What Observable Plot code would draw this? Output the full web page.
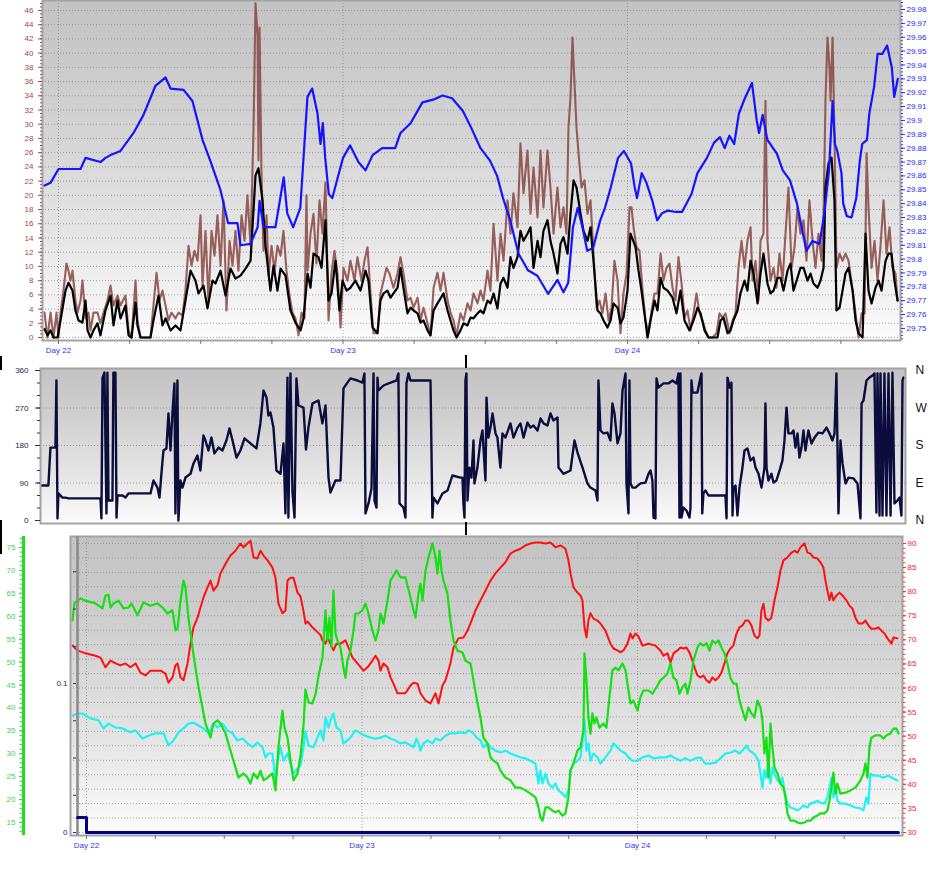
<!DOCTYPE html>
<html><head><meta charset="utf-8">
<script src="https://cdn.jsdelivr.net/npm/d3@7"></script>
<script src="https://cdn.jsdelivr.net/npm/@observablehq/plot@0.6"></script>
<style>
html,body{margin:0;padding:0;background:#fff;}
#wrap{position:relative;width:949px;height:881px;overflow:hidden;}
#wrap svg{position:absolute;left:0;}
.sp{position:absolute;background:#000;width:1.5px;}
</style></head><body><div id="wrap"></div>
<script>
// ---------- DATA (time in hours from Day 22 00:00) ----------
const dayTicks = [0, 24, 48];
const hourTicks = [0, 6, 12, 18, 24, 30, 36, 42, 48, 54, 60, 66];
const windTicks = [0,2,4,6,8,10,12,14,16,18,20,22,24,26,28,30,32,34,36,38,40,42,44,46];
const pressureTicks = [29.75,29.76,29.77,29.78,29.79,29.8,29.81,29.82,29.83,29.84,29.85,29.86,29.87,29.88,29.89,29.9,29.91,29.92,29.93,29.94,29.95,29.96,29.97,29.98];
const dirTicks = [0, 90, 180, 270, 360];
const dirNames = ["N", "E", "S", "W", "N"];
const humTicks = [15,20,25,30,35,40,45,50,55,60,65,70,75];
const tempTicks = [30,35,40,45,50,55,60,65,70,75,80,85,90];
const rainTicks = [0, 0.025, 0.05, 0.075, 0.1, 0.125, 0.15, 0.175];
const rainLabels = [0, 0.1];

const windGust = [[-1.18,3.5],[-0.93,0],[-0.67,3.5],[-0.42,0],[-0.17,3.5],[0,0],[0.17,3.5],[0.42,6.6],[0.67,10.4],[0.84,9.4],[1.01,8],[1.18,9.4],[1.43,5.2],[1.6,3.5],[1.86,5.2],[2.02,8],[2.28,2.7],[2.53,3.5],[2.7,1],[2.95,3.5],[3.29,3.5],[3.54,2],[3.8,3.5],[4.13,5.2],[4.39,7.3],[4.64,4.5],[4.98,5.9],[5.23,4.5],[5.65,5.9],[5.91,1],[6.16,0],[6.5,8],[6.66,2.4],[6.92,0],[7.76,0],[8.01,4.5],[8.27,9.1],[8.52,5.2],[8.77,6.6],[9.03,4.5],[9.28,2.4],[9.53,3.5],[9.87,2.7],[10.12,3.5],[10.46,3.1],[10.71,6.6],[10.97,12.9],[11.22,10.1],[11.47,12.2],[11.73,10.8],[11.98,17.2],[12.15,7.3],[12.4,15],[12.65,5.2],[12.91,15],[13.16,11.5],[13.41,17.2],[13.67,10.1],[13.92,19.3],[14.17,3.8],[14.43,13.6],[14.68,10.1],[14.93,15],[15.18,9.4],[15.44,17.2],[15.69,13.6],[15.94,20],[16.2,12.9],[16.45,29.1],[16.62,47],[16.79,42.5],[16.87,24.9],[16.96,43.6],[17.12,23.5],[17.29,12.2],[17.55,17.2],[17.72,8.7],[17.97,12.9],[18.22,9.4],[18.47,12.9],[18.73,11.5],[18.98,15],[19.23,9.4],[19.49,5.9],[19.74,3.5],[19.99,2.7],[20.25,0.3],[20.5,3.5],[20.75,2.7],[20.92,20],[21.01,9.4],[21.26,14.6],[21.51,17.4],[21.76,10.4],[22.02,19.3],[22.27,14.6],[22.52,21.8],[22.78,2.4],[23.03,9],[23.28,12.2],[23.54,9],[23.79,1.4],[24.04,9.8],[24.38,8],[24.63,10.8],[24.97,8],[25.22,11.3],[25.56,8],[25.81,10.8],[26.07,12.7],[26.32,6.2],[26.57,0.6],[26.91,0.6],[27.16,6.2],[27.42,8],[27.67,9.8],[27.92,9],[28.26,7],[28.6,9],[28.85,11.3],[29.1,9],[29.44,5.2],[29.7,5.6],[29.95,4.2],[30.29,5.6],[30.54,2.4],[30.79,4.2],[31.13,2],[31.38,0.3],[31.64,7],[31.97,9.1],[32.23,6.6],[32.48,9.1],[32.82,5.2],[33.07,3.5],[33.32,2.4],[33.58,0.3],[33.91,3.4],[34.17,2.4],[34.5,4.8],[34.76,3.8],[35.01,6.2],[35.35,4.8],[35.6,6.6],[35.85,5.2],[36.19,9.4],[36.44,6.6],[36.7,16],[37.03,8],[37.29,14.6],[37.54,10.8],[37.88,19.3],[38.13,14.6],[38.38,20.3],[38.72,15.5],[38.97,27.3],[39.23,20.3],[39.56,26.3],[39.82,17.4],[40.07,23.9],[40.41,16.9],[40.66,26.3],[40.91,18.3],[41.25,26.3],[41.5,21.1],[41.76,14.6],[42.09,21.1],[42.35,15.5],[42.6,18.3],[42.85,14.6],[43.02,29.5],[43.19,33.8],[43.36,42.2],[43.53,35.7],[43.7,29.5],[43.87,25.9],[44.12,21.1],[44.37,22.1],[44.63,17.4],[44.88,19.3],[45.13,11.8],[45.39,4.2],[45.64,5.2],[45.89,3.4],[46.15,6.2],[46.4,2.4],[46.65,4.2],[46.9,10.8],[47.16,8],[47.41,0.6],[47.66,6.2],[47.92,9],[48.17,18.3],[48.34,18.3],[48.51,15.5],[48.76,12.7],[49.01,12.2],[49.27,6.6],[49.52,2.4],[49.77,0.6],[50.03,3.8],[50.28,6.2],[50.53,6.2],[50.79,11.8],[51.04,8],[51.29,9.8],[51.54,10.4],[51.8,7],[52.05,5.2],[52.3,11.3],[52.56,7.6],[52.81,2.8],[53.06,3.8],[53.32,1],[53.57,3.4],[53.82,6.2],[54.08,3.4],[54.33,2.4],[54.58,1],[54.83,0],[55.17,0],[55.51,0.6],[55.76,3.4],[56.01,2.8],[56.27,3.4],[56.61,0.6],[56.86,2.4],[57.11,3.4],[57.36,9.8],[57.62,13.6],[57.87,9.8],[58.12,13.6],[58.38,15.5],[58.55,8],[58.8,10.8],[59.05,5.2],[59.22,13.6],[59.47,14.6],[59.64,33.3],[59.81,13.6],[60.06,8],[60.32,9.8],[60.57,7],[60.82,11.8],[61.08,8],[61.33,14.6],[61.58,21.1],[61.84,9.8],[62.09,12.7],[62.34,18.3],[62.59,14.6],[62.85,16.5],[63.1,10.8],[63.35,19.3],[63.61,13.6],[63.86,9.8],[64.11,14.6],[64.37,10.8],[64.54,17.4],[64.7,33.3],[64.87,42.2],[65.04,38],[65.13,33.3],[65.3,42.2],[65.46,28.7],[65.63,9.8],[65.89,11.8],[66.14,10.8],[66.39,11.8],[66.65,10.8],[66.99,6.6],[67.24,3.4],[67.49,0],[67.75,3.4],[68,3.4],[68.17,25.9],[68.33,18.3],[68.59,9.8],[68.84,13.6],[69.09,8],[69.34,12.7],[69.6,19.3],[69.85,11.8],[70.1,15.5],[70.35,9.8],[70.61,9],[70.78,5.2]];

const windAvg = [[-1.18,1.2],[-0.93,0.3],[-0.67,1],[-0.42,0],[-0.08,0],[0.17,2.4],[0.59,6.6],[0.84,7.7],[1.18,6.6],[1.43,3.8],[1.69,2.4],[2.02,2.1],[2.28,5.2],[2.45,1],[2.7,0],[2.95,1],[3.29,2],[3.54,0.3],[3.96,3.8],[4.39,5.9],[4.64,1.7],[4.98,5.2],[5.23,2.7],[5.65,4.5],[5.91,0.3],[6.16,0],[6.5,4.9],[6.66,1.7],[6.92,0],[7.76,0],[8.01,2.4],[8.44,5.9],[8.77,1.7],[9.03,2.7],[9.45,1],[9.87,1.7],[10.29,1],[10.71,5.2],[11.14,9.4],[11.56,8],[11.81,6.2],[12.23,7.3],[12.57,4.1],[12.99,8],[13.24,7.6],[13.67,9.4],[14.09,5.9],[14.51,9.7],[14.93,8.3],[15.35,8.7],[15.78,9.7],[16.2,10.8],[16.62,22.8],[16.87,23.8],[17.21,19.3],[17.46,12.9],[17.88,6.6],[18.14,10.1],[18.47,6.6],[18.73,9.7],[19.15,8.7],[19.57,3.8],[19.99,2.1],[20.42,1],[20.67,2.7],[21.01,9],[21.26,7],[21.51,11.8],[21.93,11.3],[22.19,9.8],[22.52,16.5],[22.78,5.2],[23.03,6.2],[23.37,10.8],[23.7,3.8],[23.96,8],[24.3,6.6],[24.63,7],[25.05,8],[25.48,6.6],[25.9,9.4],[26.15,8],[26.49,1.4],[26.91,0.6],[27.16,5.2],[27.42,6.2],[27.75,6.6],[28.01,5.6],[28.26,6.2],[28.6,7],[28.85,9.8],[29.1,7],[29.44,3.4],[29.7,4.2],[29.95,3.8],[30.29,3.4],[30.54,2.1],[30.79,2.4],[31.13,1],[31.38,0.3],[31.64,3.8],[31.97,4.8],[32.23,5.5],[32.48,6.2],[32.82,3.8],[33.07,2.4],[33.32,1],[33.58,0],[33.91,1],[34.17,2],[34.5,1.7],[34.76,2.8],[35.01,2.7],[35.35,3.4],[35.6,3.8],[35.85,3.4],[36.19,5.2],[36.44,4.8],[36.7,6.2],[37.03,4.1],[37.29,7.6],[37.54,8.4],[37.88,7],[38.13,11.3],[38.38,9.8],[38.72,11.3],[38.97,15],[39.23,13.6],[39.56,14.6],[39.82,15.5],[40.07,9.8],[40.41,13.6],[40.66,11.3],[40.91,15],[41.25,16.5],[41.5,13.6],[41.76,11.8],[42.09,9],[42.35,13.2],[42.6,14.1],[42.94,11.8],[43.19,17.4],[43.45,22.1],[43.7,21.1],[44.04,17.4],[44.29,15],[44.63,13.6],[44.88,15.5],[45.13,10.8],[45.47,3.8],[45.72,3.4],[45.98,2.4],[46.31,1.4],[46.57,2.4],[46.82,4.8],[47.16,4.2],[47.41,2],[47.66,2.8],[48,6.6],[48.25,14.6],[48.51,13.5],[48.68,12.7],[48.93,9.4],[49.18,6.6],[49.43,3.4],[49.69,0],[49.94,2.4],[50.28,5.2],[50.53,3.8],[50.79,8.4],[51.04,7],[51.38,6.6],[51.8,5.6],[52.13,3.4],[52.47,6.6],[52.81,2.4],[53.23,1],[53.57,2.4],[53.91,4.2],[54.16,3.4],[54.5,1],[54.83,0],[55.17,0],[55.59,0],[55.85,2.4],[56.1,2.8],[56.44,0.6],[56.69,1],[56.94,2.4],[57.28,3.8],[57.53,6.2],[57.87,8],[58.12,6.6],[58.38,10.8],[58.63,9],[58.97,4.8],[59.22,9],[59.47,11.8],[59.81,7.6],[60.06,6.2],[60.32,6.6],[60.66,8.4],[60.91,8.4],[61.16,6.6],[61.5,9.4],[61.75,10.4],[62,6.6],[62.34,8.4],[62.59,9.8],[62.85,9.8],[63.19,8],[63.44,9],[63.69,7.6],[64.03,7],[64.28,8],[64.54,9.8],[64.7,21.1],[64.96,24.5],[65.21,25.3],[65.46,19.3],[65.63,3.8],[65.89,4.2],[66.14,6.6],[66.39,9],[66.65,9.8],[66.99,6.6],[67.24,2.4],[67.49,0.6],[67.83,0],[68.08,14.6],[68.33,6.6],[68.59,4.8],[68.92,7],[69.18,8],[69.43,6.6],[69.77,10.8],[70.02,11.8],[70.27,11.8],[70.52,8],[70.78,5.2]];

const pressure = [[-1.18,29.853],[-0.67,29.855],[0,29.865],[1.86,29.865],[2.28,29.873],[3.54,29.87],[3.96,29.873],[4.39,29.875],[5.23,29.878],[6.33,29.891],[7.17,29.904],[8.18,29.925],[9.03,29.931],[9.45,29.923],[10.55,29.922],[11.3,29.914],[12.15,29.886],[12.8,29.871],[13.66,29.85],[14.3,29.826],[15.1,29.826],[15.35,29.81],[16.2,29.811],[16.8,29.823],[16.96,29.842],[17.3,29.823],[18.3,29.823],[19.0,29.859],[19.3,29.833],[19.8,29.823],[20.4,29.837],[21.0,29.917],[21.4,29.923],[21.85,29.905],[22.1,29.883],[22.3,29.898],[22.5,29.873],[22.8,29.847],[23.1,29.844],[23.5,29.857],[24.0,29.873],[24.6,29.882],[25.3,29.87],[25.9,29.864],[26.5,29.875],[27.3,29.88],[28.4,29.88],[28.85,29.891],[29.7,29.898],[30.7,29.913],[31.6,29.915],[32.4,29.918],[33.2,29.916],[34.1,29.907],[34.8,29.895],[35.6,29.88],[36.4,29.871],[37.0,29.86],[37.5,29.844],[38.1,29.828],[38.8,29.804],[39.6,29.792],[40.4,29.788],[41.3,29.775],[42.1,29.785],[42.6,29.776],[43.0,29.783],[43.4,29.823],[43.8,29.837],[44.2,29.823],[44.6,29.806],[45.1,29.808],[45.7,29.828],[46.1,29.837],[46.6,29.852],[47.0,29.866],[47.2,29.873],[47.7,29.878],[48.3,29.869],[48.6,29.852],[48.8,29.844],[49.2,29.862],[49.6,29.855],[50.1,29.842],[50.5,29.828],[50.9,29.833],[51.4,29.835],[52.1,29.834],[52.6,29.834],[53.4,29.847],[53.9,29.862],[54.7,29.873],[55.3,29.884],[55.8,29.888],[56.2,29.88],[56.6,29.889],[57.0,29.883],[57.4,29.905],[57.9,29.916],[58.5,29.927],[58.9,29.9],[59.1,29.891],[59.4,29.904],[59.8,29.886],[60.6,29.876],[61.1,29.864],[61.7,29.857],[62.3,29.84],[62.8,29.818],[63.1,29.806],[63.6,29.813],[64.2,29.811],[64.6,29.833],[65.0,29.864],[65.3,29.914],[65.5,29.883],[65.7,29.878],[66.05,29.862],[66.2,29.84],[66.5,29.831],[66.9,29.83],[67.3,29.844],[67.6,29.871],[67.8,29.883],[68.2,29.886],[68.4,29.905],[68.8,29.924],[69.1,29.948],[69.5,29.948],[69.9,29.954],[70.3,29.938],[70.5,29.917],[70.8,29.93]];

const windDir = [[-1.2,84],[-0.62,84],[-0.45,175],[-0.03,175],[0.05,336],[0.14,5],[0.22,65],[0.55,55],[0.8,55],[1.06,53],[3.73,53],[3.81,5],[3.9,343],[4.06,355],[4.23,17],[4.31,355],[4.4,48],[4.73,48],[4.81,355],[4.98,355],[5.07,7],[5.15,60],[5.57,60],[5.82,55],[6.07,65],[7.91,65],[8.16,96],[8.49,79],[8.66,55],[8.82,112],[8.99,168],[9.24,173],[9.41,257],[9.58,168],[9.74,257],[9.91,329],[9.99,17],[10.16,336],[10.24,0],[10.41,96],[10.58,79],[10.83,103],[11.25,112],[11.5,137],[11.83,156],[12.08,120],[12.33,204],[12.5,192],[12.75,168],[13.0,199],[13.25,161],[13.59,175],[13.92,168],[14.25,192],[14.51,221],[14.76,192],[15.09,151],[15.42,168],[15.76,197],[16.26,185],[16.76,173],[17.09,233],[17.35,312],[17.6,295],[17.76,252],[17.93,259],[18.18,223],[18.43,120],[18.77,112],[19.02,185],[19.18,17],[19.35,343],[19.43,7],[19.6,353],[19.77,67],[19.94,7],[20.1,341],[20.27,276],[20.69,271],[20.9,170],[21.1,223],[21.44,281],[21.94,288],[22.27,233],[22.53,276],[22.78,103],[22.94,67],[23.36,96],[23.78,96],[24.03,317],[24.61,341],[25.2,336],[25.62,331],[25.78,353],[25.87,17],[26.12,41],[26.37,77],[26.54,353],[26.62,48],[26.79,31],[26.87,343],[26.95,312],[27.37,324],[27.96,331],[28.46,336],[28.62,353],[28.71,41],[29.04,31],[29.21,7],[29.29,329],[29.46,353],[29.63,336],[31.3,336],[31.46,7],[31.55,55],[31.88,41],[32.3,65],[32.72,72],[33.13,108],[33.8,103],[33.97,103],[34.05,41],[34.14,7],[34.22,336],[34.3,353],[34.39,48],[34.55,127],[34.72,103],[34.89,192],[34.97,89],[35.22,127],[35.47,192],[35.64,216],[35.89,96],[35.98,295],[36.14,199],[36.31,223],[36.48,257],[36.73,209],[36.89,199],[37.14,127],[37.31,209],[37.56,199],[37.98,233],[38.23,199],[38.57,223],[38.82,233],[39.07,199],[39.4,235],[39.65,223],[39.9,228],[40.24,216],[40.49,245],[40.74,233],[41.07,228],[41.32,257],[41.57,240],[41.91,247],[41.99,127],[42.41,112],[42.99,120],[43.33,192],[43.58,163],[44.0,127],[44.41,89],[44.66,79],[45.08,72],[45.25,48],[45.33,336],[45.5,216],[45.75,209],[46.08,211],[46.33,192],[46.5,281],[46.67,257],[46.92,185],[47.17,209],[47.34,312],[47.59,353],[47.67,89],[47.84,17],[47.92,336],[48.01,89],[48.17,79],[48.42,79],[48.84,89],[49.26,91],[49.51,112],[49.68,120],[49.84,96],[49.93,7],[50.09,5],[50.18,341],[50.34,319],[50.76,329],[51.18,329],[51.51,336],[51.85,329],[52.01,353],[52.1,7],[52.18,353],[52.27,7],[52.43,31],[52.68,24],[52.93,7],[53.02,31],[53.1,336],[53.19,307],[53.6,307],[53.85,343],[53.94,353],[54.0,17],[54.1,65],[54.27,72],[54.52,60],[55.94,60],[56.03,5],[56.11,343],[56.28,319],[56.44,331],[56.53,12],[56.61,79],[56.78,84],[56.94,12],[57.11,79],[57.36,127],[57.53,168],[57.78,173],[58.03,144],[58.28,151],[58.45,127],[58.7,112],[58.95,79],[59.2,127],[59.28,281],[59.37,127],[59.53,96],[59.78,112],[59.95,91],[60.2,96],[60.53,127],[60.7,144],[60.87,192],[61.04,271],[61.2,209],[61.46,209],[61.62,216],[61.79,175],[61.96,209],[62.12,151],[62.29,175],[62.46,216],[62.62,168],[62.87,216],[63.13,185],[63.38,199],[63.71,211],[64.05,209],[64.38,223],[64.63,209],[64.88,192],[65.05,209],[65.21,353],[65.38,17],[65.55,192],[65.72,137],[65.97,89],[66.22,103],[66.64,101],[66.97,89],[67.22,5],[67.31,281],[67.47,288],[67.72,336],[67.97,343],[68.22,348],[68.39,353],[68.55,19],[68.64,353],[68.81,12],[68.89,353],[69.06,12],[69.22,353],[69.39,12],[69.56,353],[69.73,12],[69.89,355],[70.06,41],[70.31,48],[70.48,55],[70.64,12],[70.73,336],[70.81,343]];

const humidity = [[-1.22,59.1],[-1.05,62.8],[-0.78,63.4],[-0.52,63.9],[-0.09,63.4],[0.78,62.8],[1.39,61.7],[1.65,64.5],[1.92,64.7],[2.09,61.9],[2.35,62.8],[2.79,63.4],[3.22,61.7],[3.66,61.9],[3.92,62.8],[4.44,60.2],[4.96,63],[5.57,62.3],[6.18,62.8],[6.71,61.7],[7.06,60.6],[7.49,61.3],[7.75,56.9],[7.93,57.3],[8.19,63.4],[8.45,67.8],[8.62,66.3],[8.88,59.7],[9.23,53.2],[9.49,48.8],[9.76,44.5],[10.1,40.1],[10.36,36.6],[10.8,33.5],[11.06,36.6],[11.41,37.3],[11.67,36.6],[12.11,34.4],[12.54,30.7],[12.98,27],[13.24,24.8],[13.67,25.7],[14.02,24.8],[14.28,23.5],[14.55,25.7],[14.89,24.6],[15.16,26.3],[15.42,24.2],[15.77,24.8],[16.2,25.7],[16.46,22],[16.72,31.4],[17.07,39.4],[17.25,35.7],[17.51,33.5],[17.77,28.5],[18.03,24.2],[18.38,25.7],[18.64,29.5],[18.9,36],[19.07,44],[19.34,41.2],[19.68,41],[19.95,43],[20.21,47],[20.56,51],[20.82,61.3],[20.99,54.7],[21.17,59.7],[21.34,53.2],[21.51,65.6],[21.69,56.2],[21.86,54.7],[22.12,53.2],[22.38,48.8],[22.56,46.6],[22.73,50.3],[22.99,52.5],[23.26,56.9],[23.43,60.6],[23.69,60.6],[24.04,61.3],[24.3,62.8],[24.56,60.6],[24.91,56.9],[25.17,54.7],[25.43,56.9],[25.61,60.6],[25.87,58.4],[26.22,63.4],[26.48,67.8],[26.74,68.9],[27,70],[27.35,68.5],[27.78,68.5],[28.22,64.1],[28.48,61.3],[28.66,59.7],[28.92,65],[29.09,67.1],[29.27,63.4],[29.53,70],[29.79,72.8],[30.14,75.9],[30.4,72.8],[30.57,69.3],[30.75,74.3],[30.92,70],[31.09,67.8],[31.44,65],[31.7,59.1],[31.97,54.7],[32.31,52.5],[32.75,52.1],[33.01,50.3],[33.45,49.7],[33.71,46],[34.06,41],[34.32,37.9],[34.58,33.5],[34.93,32.2],[35.19,29.2],[35.45,28.5],[35.8,27.9],[36.06,26.3],[36.49,24.8],[36.93,24.2],[37.37,22.6],[37.8,22.6],[38.24,22],[38.67,21.3],[39.11,20.5],[39.37,18.3],[39.54,16.1],[39.72,15.4],[39.98,18.3],[40.24,18.3],[40.59,17.6],[40.85,17.2],[41.11,17.6],[41.46,16.5],[41.72,17],[41.98,20.5],[42.16,26.3],[42.42,27.9],[42.77,30.7],[43.03,31.4],[43.29,35.1],[43.38,51.9],[43.55,46],[43.72,37.9],[43.9,34.4],[44.07,38.8],[44.25,36.6],[44.42,37.9],[44.68,35.7],[45.03,36.6],[45.29,35.7],[45.55,42.3],[45.81,48.2],[46.08,48.8],[46.34,48.2],[46.69,49.7],[46.95,48.2],[47.21,43.8],[47.38,41],[47.64,41.6],[47.99,39.4],[48.25,42.3],[48.51,43.8],[48.95,43.8],[49.3,43.1],[49.65,44.5],[49.99,46],[50.26,46.6],[50.61,47.5],[50.87,49.7],[51.13,46.6],[51.39,46],[51.65,43.1],[51.91,44.5],[52.17,45.3],[52.35,43.1],[52.61,46],[52.87,50.3],[53.22,53.2],[53.48,54.1],[53.74,53.6],[54,54.1],[54.26,52.5],[54.52,54.7],[54.79,54.1],[55.05,54.7],[55.31,53.2],[55.57,51.9],[55.83,49.7],[56.09,46.6],[56.35,45.3],[56.62,45.3],[56.88,41.6],[57.14,39.4],[57.4,37.3],[57.66,40.1],[57.92,38.8],[58.18,37.9],[58.44,41.6],[58.71,40.1],[58.88,37.3],[59.05,30.1],[59.23,33.5],[59.4,24.8],[59.58,36.6],[59.75,31.4],[59.93,27],[60.19,25.7],[60.45,23.5],[60.71,22.6],[60.88,20.5],[61.06,17],[61.32,15.4],[61.67,15.4],[61.93,15],[62.19,14.8],[62.54,15],[62.8,15.4],[63.06,15.4],[63.32,16.1],[63.67,16.5],[63.93,17],[64.28,17],[64.54,17.6],[64.72,19.8],[64.89,22.6],[65.06,25.9],[65.24,21.3],[65.41,23.5],[65.67,21.3],[66.11,21.5],[66.54,22],[66.98,22.6],[67.42,24.2],[67.68,25.7],[67.85,27.9],[68.03,24.8],[68.2,31.4],[68.37,33.5],[68.72,34],[69.16,34],[69.42,33.3],[69.68,34],[70.03,34.4],[70.29,35.5],[70.55,35.5],[70.73,34.4]];

const temperature = [[-1.22,68.8],[-0.78,67.8],[-0.09,67.2],[0.78,66.7],[1.22,66.3],[1.65,64.3],[2.09,65.7],[2.53,65.1],[2.96,64.7],[3.4,65.1],[3.83,64.3],[4.27,65.1],[4.7,63.2],[5.14,62.6],[5.57,63.6],[6.45,63.6],[6.88,63],[7.14,61.1],[7.49,62.2],[7.75,64.7],[7.93,65.1],[8.19,62.2],[8.45,61.6],[8.8,65.1],[9.06,69.2],[9.32,72.6],[9.67,74.6],[9.93,76.7],[10.19,78.8],[10.54,80.9],[10.8,82.3],[11.06,80.2],[11.41,81.3],[11.67,83.8],[12.11,85.8],[12.54,87.5],[12.98,88.5],[13.41,90],[13.67,89.2],[14.02,90],[14.28,90.6],[14.55,87.1],[14.89,86.9],[15.16,88.5],[15.42,87.5],[15.77,86.5],[16.2,85],[16.46,82.9],[16.72,77.5],[17.07,75.5],[17.33,76.1],[17.51,82.3],[17.77,82.9],[18.03,82.9],[18.38,79.8],[18.64,79],[18.9,76],[19.07,73.4],[19.25,73.8],[19.68,72.6],[20.12,71.6],[20.38,71],[20.56,69.9],[20.82,69.2],[20.99,70.5],[21.25,69.2],[21.51,67.8],[21.78,69.2],[22.12,69.2],[22.56,69.9],[22.82,68.4],[23.17,66.3],[23.6,65.1],[24.13,63.6],[24.48,64.3],[24.91,65.7],[25.17,66.7],[25.43,65.7],[25.61,63.6],[25.87,65.1],[26.22,64.3],[26.48,62.2],[26.74,60.9],[27.09,58.9],[27.35,58.9],[27.78,58.9],[28.22,60.5],[28.48,61.1],[28.83,60.9],[29.09,58.9],[29.53,57.4],[29.96,56.8],[30.4,58.9],[30.66,56.8],[31.01,60.5],[31.27,61.6],[31.7,65.1],[31.97,68.4],[32.4,70.3],[32.84,70.5],[33.19,71.9],[33.45,73.4],[33.88,76.1],[34.32,78.2],[34.75,80.2],[35.19,82.3],[35.62,83.8],[36.06,85],[36.49,86.1],[36.93,87.9],[37.37,88.5],[37.8,88.9],[38.24,89.6],[38.67,90],[39.11,90.2],[39.54,90.2],[39.98,90],[40.42,90.2],[40.85,89.2],[41.29,89.6],[41.72,88.9],[41.98,86.5],[42.16,83.8],[42.42,80.9],[42.77,79.8],[43.03,79.2],[43.2,78.2],[43.38,72.6],[43.55,70.5],[43.72,74],[43.9,75.5],[44.16,74.4],[44.51,74],[44.77,73.4],[45.2,71.9],[45.64,69.2],[45.9,68.2],[46.25,67.8],[46.51,67.4],[46.77,67.8],[47.12,69.2],[47.38,71.3],[47.56,70.3],[47.82,71.3],[48.08,70.7],[48.43,68.8],[48.95,69.2],[49.56,68.8],[49.99,67.8],[50.26,66.7],[50.61,67.2],[50.87,65.3],[51.13,67.2],[51.48,67.8],[51.74,68.4],[52,68.2],[52.26,68.4],[52.52,67.4],[52.69,66.3],[52.96,64.3],[53.22,62.6],[53.48,62.2],[53.74,62.6],[54,61.6],[54.26,61.1],[54.52,62.2],[54.79,61.6],[55.05,62.2],[55.31,63.2],[55.57,65.1],[55.83,67.2],[56.09,68.2],[56.35,68.8],[56.62,71.3],[56.88,72.6],[57.14,73],[57.4,74],[57.66,74],[57.92,73],[58.18,70.9],[58.44,70.3],[58.62,70.9],[58.79,76.1],[58.97,77.5],[59.14,74.6],[59.4,74],[59.66,74.6],[59.93,78.2],[60.19,80.9],[60.45,84.4],[60.71,86.5],[61.06,87.1],[61.32,87.9],[61.67,88.5],[61.93,88.1],[62.19,89.2],[62.54,90],[62.8,88.1],[63.06,87.9],[63.32,87.1],[63.67,86.9],[63.93,86.1],[64.19,85],[64.37,82.3],[64.54,80.2],[64.72,78.2],[64.89,79.8],[65.06,78.2],[65.33,79.2],[65.59,79.8],[65.85,79.2],[66.2,78.2],[66.46,77.1],[66.72,76.5],[66.98,74.6],[67.24,73.4],[67.59,73.4],[67.85,74],[68.11,73],[68.37,72.3],[68.72,72.3],[68.98,72.6],[69.24,71.9],[69.51,71.3],[69.77,70.3],[70.12,69.2],[70.29,70.5],[70.64,70.3]];

const dewpoint = [[-1.22,54.3],[-0.78,54.7],[-0.35,54.7],[0.35,53.7],[1.05,53.3],[1.48,51.6],[1.92,52.6],[2.53,51.8],[3.14,51.6],[3.83,50.8],[4.27,51.2],[4.88,49.5],[5.4,50.1],[6.01,50.6],[6.71,50.6],[7.14,48.1],[7.58,49.1],[8.01,50.8],[8.45,51.6],[8.88,52.6],[9.32,52.8],[9.76,52.2],[10.19,51.6],[10.63,50.6],[11.06,52.6],[11.41,51.8],[11.85,52.6],[12.28,51.2],[12.72,50.6],[13.15,49.1],[13.59,49.5],[14.02,48.5],[14.46,47.7],[14.89,48.7],[15.33,47.7],[15.59,45.6],[15.85,46.4],[16.2,46.4],[16.46,40.8],[16.64,44.9],[16.9,47.7],[17.16,44.9],[17.51,46.4],[17.77,44.3],[18.03,42.2],[18.38,43.3],[18.64,43.9],[18.9,47.7],[19.07,51],[19.34,48],[19.77,47.7],[20.12,49.7],[20.38,51.2],[20.64,49.1],[20.82,53.9],[21.08,51.8],[21.25,53.3],[21.51,54.7],[21.78,51.8],[22.12,51.2],[22.38,48.5],[22.73,49.1],[22.99,49.7],[23.43,51.2],[23.87,50.6],[24.3,50.1],[24.74,49.7],[25.17,49.5],[25.61,49.7],[26.04,50.1],[26.48,49.5],[26.91,49.1],[27.35,48.5],[27.78,48.7],[28.22,48.1],[28.48,47.7],[28.74,49.5],[28.92,48.5],[29.09,47],[29.35,48.5],[29.7,49.1],[30.14,48.5],[30.4,49.5],[30.83,49.1],[31.27,50.1],[31.7,50.6],[32.14,50.6],[32.58,50.8],[33.01,50.6],[33.27,51.2],[33.62,50.8],[33.97,49.7],[34.32,49.1],[34.58,47.7],[34.93,48.5],[35.19,47.7],[35.62,47],[36.06,46.6],[36.49,47],[36.93,46.4],[37.37,46],[37.8,45.6],[38.24,45.4],[38.67,44.9],[39.11,44.3],[39.37,40.2],[39.54,42.9],[39.72,40.2],[39.98,42.2],[40.24,40.2],[40.59,39.3],[40.85,40.2],[41.11,38.7],[41.46,38.1],[41.72,37.3],[41.98,38.7],[42.16,42.9],[42.42,44.3],[42.77,44.9],[43.03,45.6],[43.29,51.2],[43.38,53.3],[43.55,47],[43.72,48.5],[43.9,44.9],[44.16,46.4],[44.51,45.6],[44.77,44.3],[45.2,45.6],[45.64,47],[45.9,48.5],[46.25,47.7],[46.51,47],[46.95,46.4],[47.21,45.6],[47.56,44.9],[47.99,44.9],[48.43,45.6],[48.95,46],[49.39,45.4],[49.99,45.6],[50.52,45.6],[50.87,46],[51.3,45.4],[51.74,44.9],[52.17,45.4],[52.61,44.9],[53.04,45.4],[53.48,45.6],[53.91,44.3],[54.35,44.3],[54.79,44.5],[55.22,45.4],[55.66,46.4],[56.09,46.6],[56.53,47],[56.88,46.4],[57.14,47],[57.49,48.1],[57.75,47],[58.01,46.6],[58.27,46],[58.53,44.9],[58.71,42.2],[58.88,39.3],[59.05,42.9],[59.23,41.4],[59.4,44.9],[59.58,40.2],[59.75,43.5],[59.93,42.2],[60.19,40.8],[60.45,40.2],[60.62,41.4],[60.8,38.7],[61.06,36],[61.32,35.2],[61.58,35],[61.93,34.6],[62.19,35],[62.45,35.6],[62.8,35.2],[63.06,36],[63.32,36.2],[63.67,36.6],[63.93,36.2],[64.28,36],[64.54,37.3],[64.72,39.3],[64.89,41.4],[65.06,37.3],[65.24,39.3],[65.41,36.6],[65.67,36],[66.11,36],[66.54,35.6],[66.98,35.2],[67.42,35],[67.68,34.6],[67.94,37.3],[68.11,36],[68.29,42.2],[68.55,41.8],[68.98,41.8],[69.42,41.4],[69.85,41.8],[70.29,41.2],[70.64,40.8]];

const rain = [[-0.78,0.01],[0,0],[70.73,0]];

// ---------- LAYOUT ----------
const W = 949;
const FONT = "'Liberation Sans', Arial, sans-serif";
const wrap = document.getElementById("wrap");
const X = d => d[0], Y = d => d[1];
const dayFmt = d => d % 24 === 0 ? "Day " + (22 + d / 24) : "";
const blank = () => "";
const range = (a, b, s) => d3.range(Math.round(a / s), Math.round(b / s) + 1).map(i => +(i * s).toFixed(4));

function put(svg, top, gradId) {
  svg.style.position = "absolute";
  svg.style.top = top + "px";
  svg.style.left = "0px";
  svg.style.overflow = "visible";
  if (gradId) {
    d3.select(svg).insert("defs", ":first-child").html(
      `<linearGradient id="${gradId}" x1="0" y1="0" x2="0" y2="1">
        <stop offset="0" stop-color="#c3c3c3"/><stop offset="0.3" stop-color="#cfcfcf"/>
        <stop offset="0.7" stop-color="#e6e6e6"/><stop offset="1" stop-color="#fcfcfc"/></linearGradient>`);
  }
  wrap.appendChild(svg);
}
const style = {background: "transparent", fontFamily: FONT, fontSize: "8px", overflow: "visible"};
const grid = {stroke: "#8c8c8c", strokeOpacity: 0.8, strokeDasharray: "1,2"};

// ---------- TOP: wind + pressure ----------
const topX = {domain: [-1.35, 71.03], axis: null};
const topDims = {width: W, height: 362, marginLeft: 42, marginRight: 49, marginTop: 0, marginBottom: 22};

put(Plot.plot({
  ...topDims, style,
  x: topX,
  y: {domain: [-0.42, 47.4], axis: null},
  marks: [
    Plot.frame({fill: "url(#gTop)"}),
    Plot.ruleY(windTicks, grid),
    Plot.ruleX(dayTicks, grid),
    Plot.line(windGust, {x: X, y: Y, stroke: "#884642", strokeWidth: 2.1, strokeOpacity: 0.85}),
    Plot.line(windAvg, {x: X, y: Y, stroke: "#000", strokeWidth: 2.2}),
    Plot.frame({stroke: "#a3a3a3", strokeWidth: 2}),
    Plot.axisY(range(0, 47, 0.5), {anchor: "left", tickSize: 2, tickFormat: blank, stroke: "#a05050"}),
    Plot.axisY(windTicks, {anchor: "left", tickSize: 4, tickPadding: 5, stroke: "#a05050", fill: "#a04848", label: null}),
    Plot.axisX(hourTicks, {anchor: "bottom", tickSize: 4, tickPadding: 3, tickFormat: dayFmt, stroke: "#777", fill: "#3535ee", label: null})
  ]
}), 0, "gTop");

put(Plot.plot({
  ...topDims, style,
  x: topX,
  y: {domain: [29.7413, 29.9865], axis: null},
  marks: [
    Plot.line(pressure, {x: X, y: Y, stroke: "#1414ff", strokeWidth: 2.2}),
    Plot.axisY(range(29.7425, 29.985, 0.0025), {anchor: "right", tickSize: 2, tickFormat: blank, stroke: "#3a3aff"}),
    Plot.axisY(pressureTicks, {anchor: "right", tickSize: 4, tickPadding: 2, tickFormat: d => String(+d.toFixed(2)), stroke: "#2a2aff", fill: "#2a2aff", label: null})
  ]
}), 0, null);

// ---------- MIDDLE: wind direction ----------
put(Plot.plot({
  width: W, height: 170, marginLeft: 40, marginRight: 44, marginTop: 8, marginBottom: 7, style,
  x: {domain: [-1.28, 70.98], axis: null},
  y: {domain: [-7.2, 364.8], axis: null},
  marks: [
    Plot.frame({fill: "url(#gMid)"}),
    Plot.ruleY([90, 180, 270], grid),
    Plot.line(windDir, {x: X, y: Y, stroke: "#0d0d3d", strokeWidth: 2.4}),
    Plot.frame({stroke: "#a3a3a3", strokeWidth: 2}),
    Plot.axisY(range(0, 360, 30), {anchor: "left", tickSize: 3, tickFormat: blank, stroke: "#303060"}),
    Plot.axisY(dirTicks, {anchor: "left", tickSize: 5, tickPadding: 7, stroke: "#303060", fill: "#1c1c44", label: null}),
    Plot.axisY(dirTicks, {anchor: "right", tickSize: 0, tickPadding: 10, tickFormat: d => dirNames[dirTicks.indexOf(d)], fill: "#111", fontSize: 12, label: null})
  ]
}), 360, "gMid");

// ---------- BOTTOM: temperature / humidity / dew point / rain ----------
const botX = {domain: [-1.394, 71.08], axis: null};
const botDims = {width: W, height: 345, marginLeft: 70, marginRight: 47, marginTop: 6, marginBottom: 40};

put(Plot.plot({
  ...botDims, style,
  x: botX,
  y: {domain: [29.38, 91.45], axis: null},
  marks: [
    Plot.frame({fill: "url(#gBot)"}),
    Plot.ruleY(range(30, 90, 3), grid),
    Plot.ruleX(dayTicks, grid),
    Plot.line(dewpoint, {x: X, y: Y, stroke: "#1ff2f2", strokeWidth: 2.2}),
    Plot.line(temperature, {x: X, y: Y, stroke: "#ff1010", strokeWidth: 2}),
    Plot.frame({stroke: "#a3a3a3", strokeWidth: 2}),
    Plot.axisY(range(30, 90, 1), {anchor: "right", tickSize: 2.5, tickFormat: blank, stroke: "#ff4040"}),
    Plot.axisY(tempTicks, {anchor: "right", tickSize: 3, tickPadding: 2, stroke: "#ff3030", fill: "#ff2020", label: null}),
    Plot.axisX(hourTicks, {anchor: "bottom", tickSize: 4, tickPadding: 3, tickFormat: dayFmt, stroke: "#777", fill: "#3535ee", label: null})
  ]
}), 530, "gBot");

put(Plot.plot({
  ...botDims, style,
  x: botX,
  y: {domain: [12.16, 77.4], axis: null},
  marks: [
    Plot.line(humidity, {x: X, y: Y, stroke: "#14e014", strokeWidth: 2.2}),
    Plot.ruleX([botX.domain[0]], {dx: -47, stroke: "#22dd22", strokeWidth: 3}),
    Plot.axisY(range(13, 77, 1), {anchor: "left", dx: -48, tickSize: 2.5, tickFormat: blank, stroke: "#33dd33"}),
    Plot.axisY(humTicks, {anchor: "left", dx: -48, tickSize: 3, tickPadding: 4, stroke: "#33dd33", fill: "#44d444", label: null})
  ]
}), 530, null);

put(Plot.plot({
  ...botDims, style,
  x: botX,
  y: {domain: [-0.002, 0.1987], axis: null},
  marks: [
    Plot.ruleX([botX.domain[0]], {dx: 7, stroke: "#8a8a8a", strokeWidth: 2.5}),
    Plot.line(rain, {x: X, y: Y, curve: "step-after", stroke: "#000080", strokeWidth: 3}),
    Plot.axisY(rainTicks, {anchor: "left", dx: 6, tickSize: 3, tickPadding: 6,
      tickFormat: d => rainLabels.includes(d) ? String(d) : "", stroke: "#2a2a80", fill: "#20206a", label: null})
  ]
}), 530, null);

// small splitter handles between panels
[[0, 356, 14], [465, 355, 13], [0, 520, 34], [465, 522, 13]].forEach(([l, t, h]) => {
  const d = document.createElement("div");
  d.className = "sp"; d.style.left = l + "px"; d.style.top = t + "px"; d.style.height = h + "px";
  wrap.appendChild(d);
});
</script></body></html>
